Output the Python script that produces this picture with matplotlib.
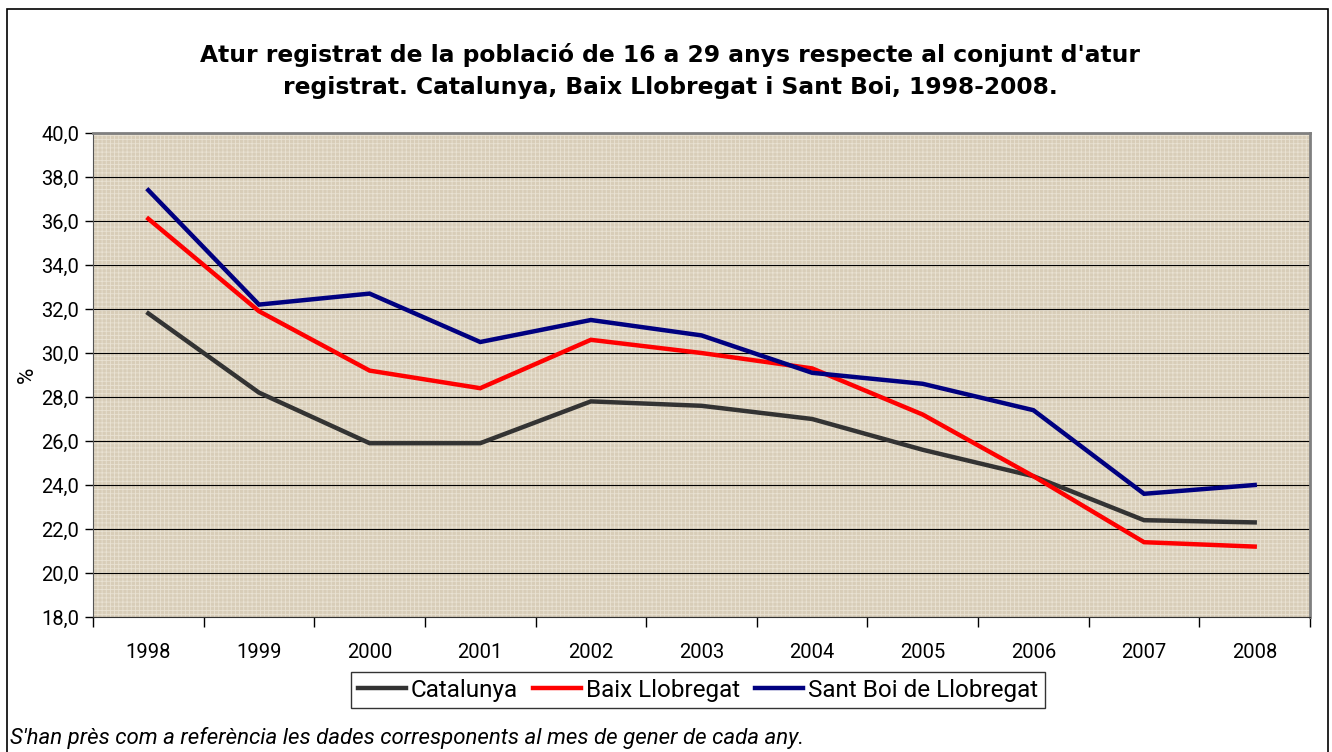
import matplotlib
matplotlib.use("Agg")
import matplotlib.pyplot as plt
from matplotlib import font_manager
from matplotlib.patches import Rectangle
from matplotlib.ticker import FixedLocator, FuncFormatter

years = [1998, 1999, 2000, 2001, 2002, 2003, 2004, 2005, 2006, 2007, 2008]
catalunya = [31.8, 28.2, 25.9, 25.9, 27.8, 27.6, 27.0, 25.6, 24.4, 22.4, 22.3]
baix_llobregat = [36.1, 31.9, 29.2, 28.4, 30.6, 30.0, 29.3, 27.2, 24.4, 21.4, 21.2]
sant_boi = [37.4, 32.2, 32.7, 30.5, 31.5, 30.8, 29.1, 28.6, 27.4, 23.6, 24.0]

series_names = ["Catalunya", "Baix Llobregat", "Sant Boi de Llobregat"]
series_colors = ["#333333", "#ff0000", "#000080"]

title = ("Atur registrat de la població de 16 a 29 anys respecte al conjunt d'atur\n"
         "registrat. Catalunya, Baix Llobregat i Sant Boi, 1998-2008.")
note = "S'han près com a referència les dades corresponents al mes de gener de cada any."


def pick_font(names):
    for n in names:
        try:
            font_manager.findfont(n, fallback_to_default=False)
            return n
        except Exception:
            pass
    return "DejaVu Sans"


body_font = pick_font(["Liberation Sans Narrow", "Roboto", "DejaVu Sans"])
plt.rcParams["font.family"] = [body_font, "DejaVu Sans"]
plt.rcParams["hatch.linewidth"] = 0.6

fig = plt.figure(figsize=(13.32, 7.52), dpi=100)
ax = fig.add_axes([93 / 1332, 1 - 617 / 752, (1310 - 93) / 1332, (617 - 133) / 752])

# outer frame of the chart
fig.patches.append(Rectangle((7 / 1332, -0.05), 1321 / 1332, 1.05 - 9 / 752,
                             transform=fig.transFigure, fill=False,
                             edgecolor="black", lw=1.2, zorder=0))

# woven-looking background
ax.set_facecolor("#d8cdb8")
ax.add_patch(Rectangle((0, 0), 1, 1, transform=ax.transAxes, facecolor="none",
                       edgecolor="#e9e2d3", hatch="++++", lw=0, zorder=0))

x = list(range(len(years)))
for vals, name, col in zip([catalunya, baix_llobregat, sant_boi], series_names, series_colors):
    ax.plot(x, vals, color=col, lw=3.2, label=name, zorder=3, solid_joinstyle="miter")

ax.set_xlim(-0.5, len(years) - 0.5)
ax.set_ylim(18, 40)
ax.set_yticks([18 + 2 * i for i in range(12)])
ax.yaxis.set_major_formatter(FuncFormatter(lambda v, p: f"{v:.1f}".replace(".", ",")))
ax.grid(axis="y", color="black", lw=0.8, zorder=1)

ax.xaxis.set_major_locator(FixedLocator([i - 0.5 for i in range(len(years) + 1)]))
ax.xaxis.set_minor_locator(FixedLocator(x))
ax.set_xticklabels([])
ax.set_xticklabels([str(y) for y in years], minor=True)
ax.tick_params(axis="x", which="major", length=7, width=1, color="black")
ax.tick_params(axis="x", which="minor", length=0, pad=19, labelsize=14.5)
ax.tick_params(axis="y", length=6, width=1, pad=4, labelsize=14.5)

for s in ["top", "right"]:
    ax.spines[s].set_color("#808080")
    ax.spines[s].set_linewidth(2)
ax.spines["left"].set_color("#555555")
ax.spines["bottom"].set_color("#333333")

ax.set_ylabel("%", fontsize=16, labelpad=2)

fig.text(0.503, 1 - 71 / 752, title, ha="center", va="center", fontsize=16.8,
         fontweight="bold", family=["DejaVu Sans"], linespacing=1.55)

leg = ax.legend(loc="center", bbox_to_anchor=(698 / 1332, 1 - 690 / 752),
                bbox_transform=fig.transFigure, ncol=3, frameon=True, fancybox=False,
                edgecolor="black", fontsize=17.5, handlelength=2.0, handletextpad=0.2,
                columnspacing=0.6, borderpad=0.25)
leg.get_frame().set_linewidth(1)

fig.text(10 / 1332, 1 - 738 / 752, note, ha="left", va="center", fontsize=16,
         style="italic")

fig.savefig("out.png", dpi=100)
